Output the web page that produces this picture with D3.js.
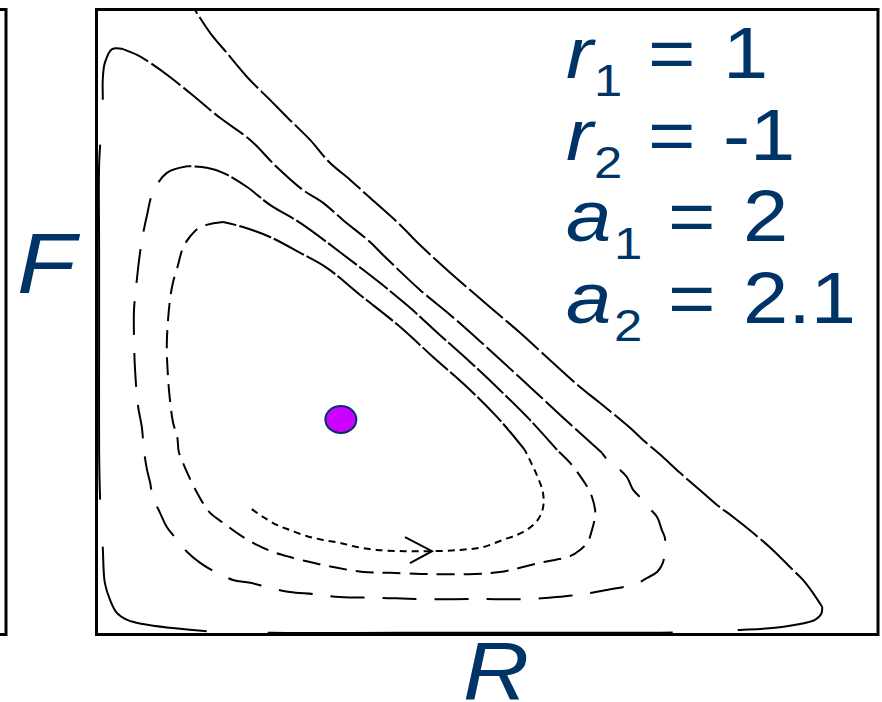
<!DOCTYPE html>
<html>
<meta charset="utf-8">
<title>Predator-prey phase plane</title>
<script src="https://d3js.org/d3.v7.min.js"></script>
<style>
	body { margin: 0; background: #fff; }
	.orbit { fill: none; stroke: #000; stroke-width: 2; }
	.frame { fill: none; stroke: #000; stroke-width: 3; }
	.lbl text { fill: #003366; font-family: "Liberation Sans", Arial, sans-serif; }
</style>
<body>
<script>

	// parameters printed in the corner
	var paramNames = ["r", "r", "a", "a"],
		paramSubs = ["1", "2", "1", "2"],
		paramValues = ["1", "-1", "2", "2.1"];

	// equilibrium point [R, F]
	var equilibrium = [0.469, 0.516];

	// one trajectory, spiralling outward, split in laps: [R, F]
	var lap1Slow = [[0.298,0.301],[0.320,0.282],[0.346,0.263],[0.371,0.251],[0.404,0.236],[0.435,0.227],[0.467,0.220],[0.500,0.210],[0.538,0.203],[0.592,0.200],[0.644,0.200],[0.698,0.203],[0.742,0.210],[0.780,0.227],[0.807,0.239],[0.828,0.253],[0.847,0.275],[0.857,0.304],[0.857,0.340],[0.845,0.383],[0.822,0.443]];
	var lap1Fast = [[0.822,0.443],[0.794,0.486],[0.765,0.527],[0.711,0.594],[0.646,0.666],[0.583,0.738],[0.506,0.815],[0.442,0.880],[0.391,0.916],[0.333,0.954],[0.281,0.978],[0.243,0.990]];
	var lap2Slow = [[0.243,0.990],[0.199,0.978],[0.179,0.954],[0.166,0.928],[0.155,0.880],[0.147,0.846],[0.141,0.803],[0.135,0.700],[0.137,0.623],[0.141,0.563],[0.147,0.508],[0.155,0.474],[0.158,0.438],[0.166,0.412],[0.176,0.383],[0.193,0.340],[0.204,0.316],[0.218,0.292],[0.243,0.268],[0.275,0.239],[0.308,0.215],[0.339,0.198],[0.371,0.186],[0.416,0.172],[0.462,0.160],[0.512,0.150],[0.563,0.148],[0.640,0.145],[0.726,0.145],[0.774,0.150],[0.813,0.160],[0.851,0.172],[0.880,0.179],[0.909,0.188],[0.928,0.203],[0.943,0.222],[0.951,0.251],[0.957,0.282],[0.957,0.299],[0.951,0.330],[0.943,0.352],[0.924,0.388],[0.909,0.412],[0.884,0.443]];
	var lap2Fast = [[0.884,0.443],[0.832,0.515],[0.774,0.587],[0.717,0.654],[0.659,0.719],[0.602,0.784],[0.544,0.844],[0.467,0.918],[0.391,0.988],[0.333,1.031],[0.289,1.074],[0.243,1.108],[0.212,1.120],[0.174,1.124]];
	var lap3Slow = [[0.174,1.124],[0.135,1.108],[0.108,1.060],[0.097,1.007],[0.089,0.959],[0.083,0.911],[0.078,0.858],[0.072,0.779],[0.072,0.714],[0.074,0.635],[0.080,0.546],[0.087,0.498],[0.091,0.443],[0.097,0.395],[0.103,0.364],[0.108,0.330],[0.122,0.292],[0.135,0.258],[0.155,0.227],[0.174,0.198],[0.199,0.172],[0.231,0.148],[0.262,0.131],[0.295,0.124],[0.333,0.112],[0.371,0.102],[0.416,0.097],[0.467,0.090],[0.544,0.088],[0.621,0.085],[0.736,0.085],[0.826,0.085],[0.882,0.090],[0.934,0.097],[0.980,0.107],[1.034,0.121],[1.057,0.136],[1.076,0.150],[1.087,0.172],[1.091,0.203],[1.091,0.232],[1.085,0.251],[1.076,0.282],[1.059,0.306],[1.043,0.330],[1.030,0.347],[1.018,0.378],[1.005,0.395],[0.986,0.412],[0.970,0.436]];
	var lap3Fast = [[0.970,0.436],[0.890,0.527],[0.813,0.616],[0.736,0.704],[0.679,0.767],[0.621,0.827],[0.550,0.911],[0.525,0.942],[0.473,0.995],[0.435,1.036],[0.396,1.067],[0.346,1.122],[0.295,1.187],[0.237,1.240],[0.179,1.300],[0.141,1.338],[0.103,1.372],[0.078,1.391],[0.051,1.405]];
	var lap4Slow = [[0.051,1.405],[0.030,1.405],[0.016,1.372],[0.012,1.331],[0.012,1.283],[0.009,1.211],[0.005,1.127],[0.005,0.923],[0.005,0.683],[0.005,0.443],[0.007,0.323],[0.012,0.210],[0.016,0.124],[0.026,0.083],[0.039,0.052],[0.059,0.035],[0.089,0.025],[0.141,0.016],[0.212,0.008],[0.333,0.004],[0.583,0.004],[0.870,0.004],[1.107,0.005],[1.235,0.011],[1.302,0.016],[1.350,0.025],[1.379,0.035],[1.391,0.049],[1.393,0.066]];
	var lap4Fast = [[1.393,0.066],[1.375,0.100],[1.356,0.131],[1.331,0.162],[1.298,0.203],[1.260,0.244],[1.222,0.282],[1.191,0.311],[1.158,0.347],[1.120,0.388],[1.087,0.426],[1.049,0.467],[1.024,0.496],[0.966,0.556],[0.928,0.594],[0.876,0.652],[0.813,0.724],[0.755,0.786],[0.673,0.875],[0.615,0.942],[0.583,0.983],[0.525,1.048],[0.487,1.091],[0.448,1.132],[0.410,1.187],[0.371,1.235],[0.333,1.283],[0.289,1.338],[0.250,1.396],[0.218,1.444],[0.189,1.499]];

	// where the direction arrow sits on the first lap
	var arrowAt = [0.644, 0.200];

	var width = 882, height = 702;
	var x = d3.scaleLinear().domain([0, 1.5]).range([96.5, 878]),
		y = d3.scaleLinear().domain([0, 1.5]).range([634.5, 9.5]);

	var svg = d3.select("body").append("svg")
		.attr("width", width)
		.attr("height", height);

	/* dash pattern per piece, slow parts get longer dashes */
	var pieces = [
		[lap1Slow, "7,5"], [lap1Fast, "34,3"],
		[lap2Slow, "18,9"], [lap2Fast, "36,3"],
		[lap3Slow, "34,18"], [lap3Fast, "36,4"],
		[lap4Slow, "64,45,355,47,162,61,405,65,95"], [lap4Fast, "44,4"]
	];

	var line = d3.line()
		.x(function(d) { return x(d[0]); })
		.y(function(d) { return y(d[1]); })
		.curve(d3.curveCatmullRom.alpha(0.5));

	svg.append("clipPath").attr("id", "plot")
		.append("rect")
		.attr("x", x(0)).attr("y", y(1.5))
		.attr("width", x(1.5) - x(0)).attr("height", y(0) - y(1.5));

	svg.append("g")
		.attr("clip-path", "url(#plot)")
		.selectAll(".orbit")
		.data(pieces)
		.enter().append("path")
		.attr("class", "orbit")
		.attr("d", function(d) { return line(d[0]); })
		.style("stroke-dasharray", function(d) { return d[1]; });

	// open arrow head pointing along the orbit
	var ax = x(arrowAt[0]), ay = y(arrowAt[1]);
	svg.append("path")
		.attr("d", "M" + (ax - 27) + "," + (ay - 14) + "L" + ax + "," + ay + "L" + (ax - 22) + "," + (ay + 12))
		.style("fill", "none").style("stroke", "#000").style("stroke-width", 2);

	// frames: this panel and the edge of the one to its left
	svg.append("rect").attr("class", "frame")
		.attr("x", x(0)).attr("y", y(1.5))
		.attr("width", x(1.5) - x(0)).attr("height", y(0) - y(1.5));
	svg.append("rect").attr("class", "frame")
		.attr("x", -30).attr("y", y(1.5))
		.attr("width", 36).attr("height", y(0) - y(1.5));

	svg.append("ellipse")
		.attr("cx", x(equilibrium[0])).attr("cy", y(equilibrium[1]))
		.attr("rx", 15.5).attr("ry", 13.5)
		.style("fill", "#cc00ff").style("stroke", "#003366").style("stroke-width", 2);

	var lbl = svg.append("g").attr("class", "lbl");

	function put(str, px, py, size, italic) {
		lbl.append("text")
			.attr("transform", "translate(" + px + "," + py + ") scale(1.13,1)")
			.style("font-size", size + "px")
			.style("font-style", italic ? "italic" : "normal")
			.text(str);
	}

	paramNames.forEach(function(name, i) {
		var base = 78 + i * 81.7,
			subX = 566 + (name === "a" ? 48 : 28),
			eqX = subX + 54;
		put(name, 566, base, 72, true);
		put(paramSubs[i], subX, base + 18, 45, false);
		put("=", eqX, base, 72, false);
		put(paramValues[i], eqX + 75, base, 72, false);
	});

	put("F", 17, 293, 85, true);
	put("R", 463, 699, 81, true);

</script>
</body>
</html>
